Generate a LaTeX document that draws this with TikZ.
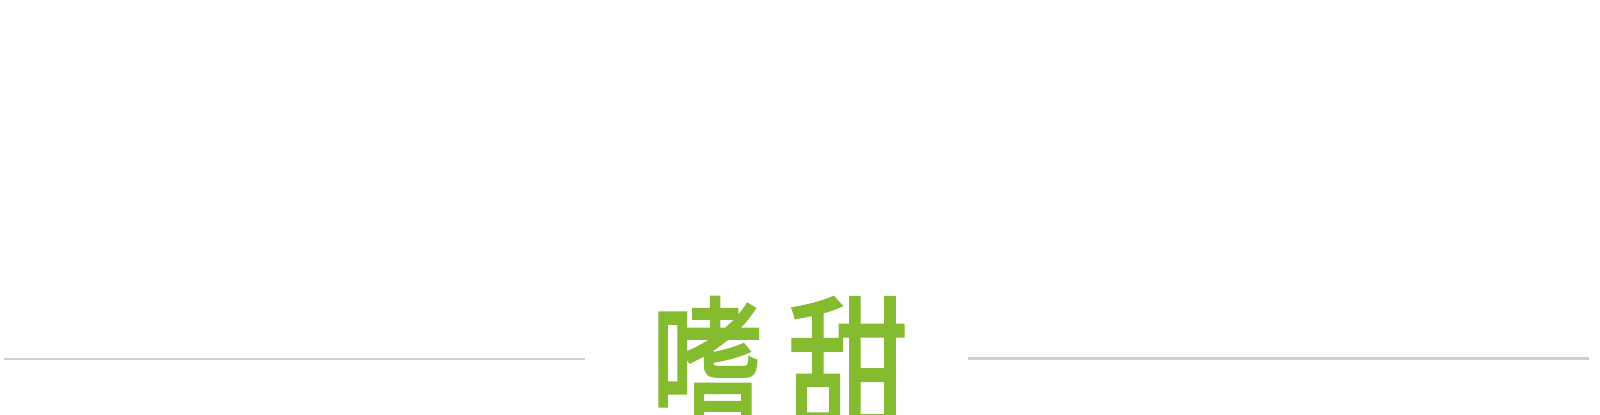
\documentclass[tikz,border=0pt]{standalone}
\usepackage{fontspec}
\newfontfamily\cjk[FakeBold=2.2]{Noto Sans CJK SC}
\definecolor{leaf}{HTML}{85BB2F}
\definecolor{rule}{HTML}{CFCFCF}
\begin{document}
\begin{tikzpicture}[x=0.5pt,y=-0.5pt,
  glyph/.style={inner sep=0pt, anchor=base, text=leaf, yscale=1.25, font=\cjk\fontsize{60pt}{60pt}\selectfont},
  hline/.style={draw=rule}]
\useasboundingbox (0,0) rectangle (1600,414);
\clip (0,0) rectangle (1600,414);
\fill[white] (0,0) rectangle (1600,414);
\coordinate (l1) at (4,359);
\coordinate (l2) at (585,359);
\coordinate (r1) at (968,358);
\coordinate (r2) at (1589,358);
\draw[hline, line width=1pt] (l1) -- (l2);
\draw[hline, line width=1.5pt] (r1) -- (r2);
\node[glyph, xscale=0.93] (c1) at (707,423) {嗜};
\node[glyph] (c2) at (848,423) {甜};
\end{tikzpicture}
\end{document}
